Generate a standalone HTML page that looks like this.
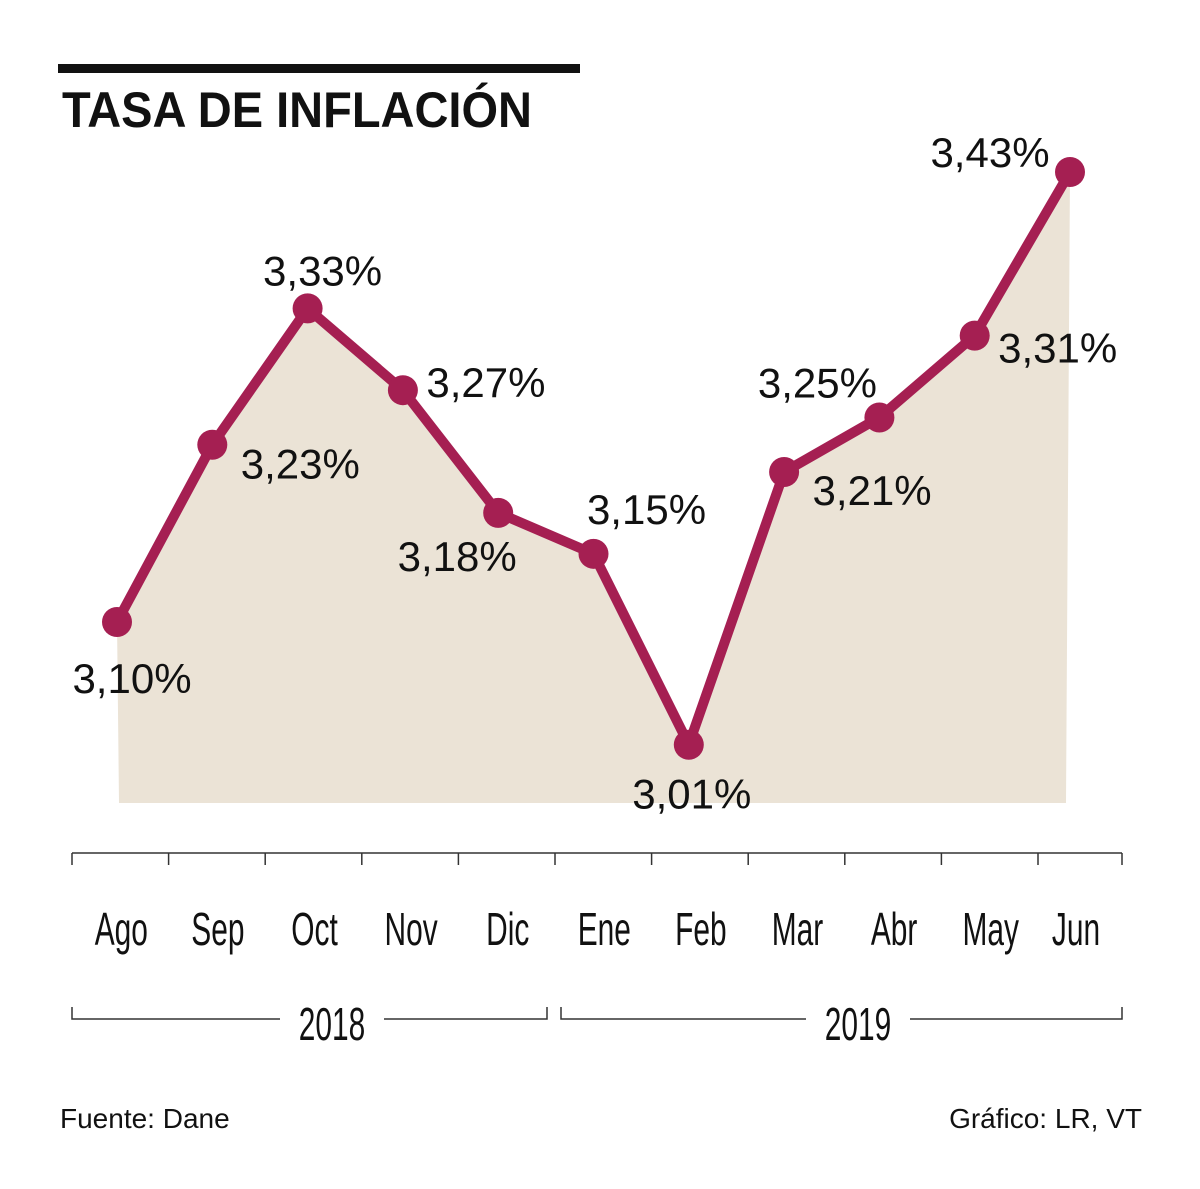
<!DOCTYPE html>
<html><head><meta charset="utf-8"><style>
html,body{margin:0;padding:0;background:#fff;}
svg{display:block;}
text{font-family:"Liberation Sans",sans-serif;fill:#111;}
</style></head><body>
<svg width="1200" height="1189" viewBox="0 0 1200 1189">
<rect x="58" y="64" width="522" height="9" fill="#111"/>
<text x="62" y="127" font-size="50" font-weight="bold" textLength="470" lengthAdjust="spacingAndGlyphs">TASA DE INFLACIÓN</text>
<g id="plot"></g>
<g id="axis" stroke="#333" stroke-width="1.5" fill="none"></g>
<text x="60" y="1128" font-size="28">Fuente: Dane</text>
<text x="1142" y="1128" font-size="28" text-anchor="end">Gráfico: LR, VT</text>
</svg>
<script>
const months=["Ago","Sep","Oct","Nov","Dic","Ene","Feb","Mar","Abr","May","Jun"];
const values=[3.10,3.23,3.33,3.27,3.18,3.15,3.01,3.21,3.25,3.31,3.43];
const valueLabels=["3,10%","3,23%","3,33%","3,27%","3,18%","3,15%","3,01%","3,21%","3,25%","3,31%","3,43%"];
const years=["2018","2019"];
const NS="http://www.w3.org/2000/svg";
function x(i){return 117+i*95.3;}
function y(v){return 622-(v-3.10)*1363.6;}
const lblOff=[[15,71],[88,34],[15,-23],[83,7],[-41,58],[53,-30],[3,64],[88,33],[-62,-20],[83,27],[-80,-5]];
const plot=document.getElementById('plot');
function mk(tag,attrs,parent){const e=document.createElementNS(NS,tag);for(const k in attrs)e.setAttribute(k,attrs[k]);parent.appendChild(e);return e;}
let pts=values.map((v,i)=>x(i).toFixed(1)+","+y(v).toFixed(1));
const base=803;
const area=mk('polygon',{points:(x(0)+2)+","+base+" "+pts.join(" ")+" "+(x(values.length-1)-4)+","+base,fill:"#ebe3d6"},plot);


const line=mk('polyline',{points:pts.join(" "),fill:"none",stroke:"#a51f52","stroke-width":10,"stroke-linejoin":"round"},plot);


values.forEach((v,i)=>{
 const c=mk('circle',{cx:x(i),cy:y(v),r:15,fill:"#a51f52"},plot);
 
 
 const t=mk('text',{x:x(i)+lblOff[i][0],y:y(v)+lblOff[i][1],"font-size":42,"text-anchor":"middle"},plot);
 t.textContent=valueLabels[i];
 
 
});
const ax=document.getElementById('axis');
const al=mk('line',{x1:72,y1:853,x2:1122,y2:853},ax);


function tx(i){return 72+i*96.6;}
for(let i=0;i<=10;i++){mk('line',{x1:tx(i),y1:853,x2:tx(i),y2:865},ax);}
mk('line',{x1:1122,y1:853,x2:1122,y2:865},ax);
const svg=document.querySelector('svg');
months.forEach((m,i)=>{
 const cx=i<10?(tx(i)+tx(i+1))/2+1:1076;
 const t=mk('text',{x:0,y:0,"font-size":46,"text-anchor":"middle",transform:`translate(${cx},945) scale(0.65,1)`},svg);
 t.textContent=m;
 
 
});
const yr=[[72,547,332],[561,1122,858]];
years.forEach((yv,k)=>{
 const [a,b,c]=yr[k];
 const g=mk('path',{d:`M${a},1007V1019H${c-52}M${c+52},1019H${b}V1007`,stroke:"#333","stroke-width":1.5,fill:"none"},svg);
 
 
 const t=mk('text',{x:0,y:0,"font-size":46,"text-anchor":"middle",transform:`translate(${c},1040) scale(0.65,1)`},svg);
 t.textContent=yv;
 
 
});
</script>
</body></html>
